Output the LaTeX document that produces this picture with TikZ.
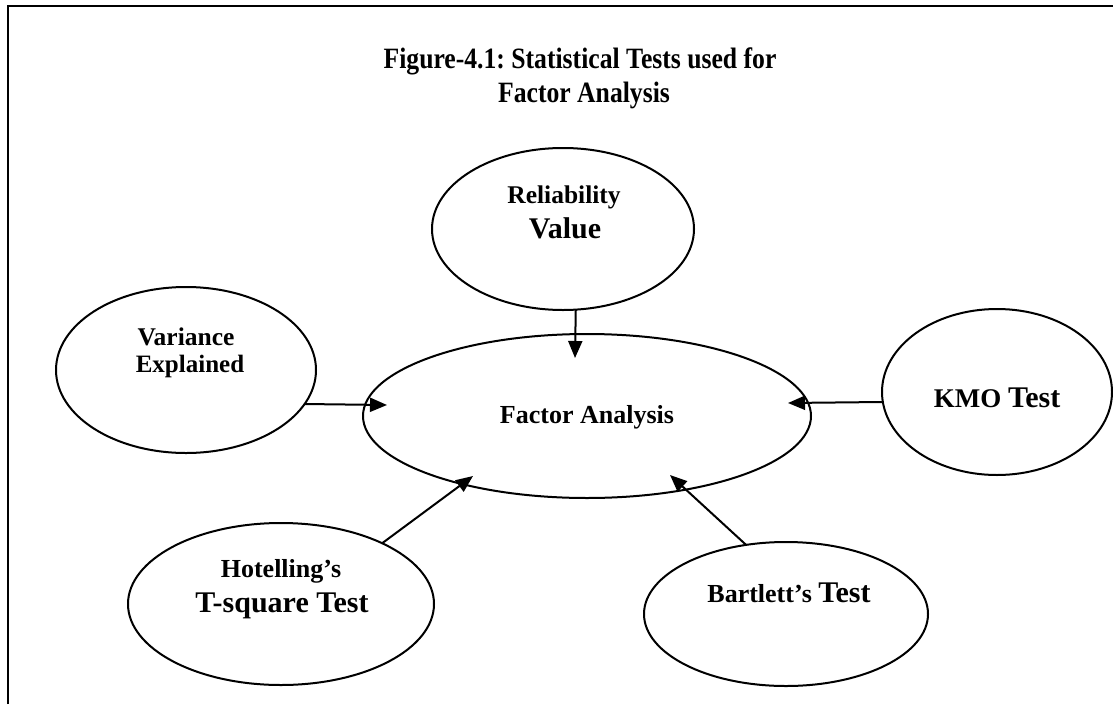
\documentclass[tikz,border=0pt]{standalone}
\usepackage{fontspec}
\setmainfont{Liberation Serif}
\newfontfamily\titlefont[FakeStretch=0.87]{Liberation Serif}
\usetikzlibrary{shapes.geometric,arrows.meta}
\newcommand\setfs[1]{\fontsize{#1}{#1}\selectfont}
\frenchspacing
\begin{document}
\frenchspacing
\begin{tikzpicture}[x=1pt,y=-1pt,
  oval/.style={draw, ellipse, line width=2pt, inner sep=0pt, outer sep=0pt},
  lbl/.style={anchor=base, inner sep=0pt, outer sep=0pt, font=\bfseries},
  ttl/.style={anchor=base, inner sep=0pt, outer sep=0pt, font=\titlefont\bfseries},
  arr/.style={line width=2pt, -{Triangle[length=17pt,width=14pt]}},
  frame/.style={line width=2pt}]
\useasboundingbox (0,0) rectangle (1113,704);
% frame
\draw[frame] (8,704) -- (8,6) -- (1113,6);
% title
\node[ttl] (t1) at (580,68) {\setfs{29.5}Figure-4.1: Statistical Tests used for};
\node[ttl] (t2) at (584,102) {\setfs{29.5}Factor Analysis};
% ellipses
\node[oval, minimum width=262pt, minimum height=162pt] (rel) at (563,229) {};
\node[oval, minimum width=260pt, minimum height=166pt] (var) at (186,370) {};
\node[oval, minimum width=448pt, minimum height=164pt] (fa)  at (587,416) {};
\node[oval, minimum width=230pt, minimum height=166pt] (kmo) at (997,392) {};
\node[oval, minimum width=306pt, minimum height=162pt] (hot) at (281,604) {};
\node[oval, minimum width=284pt, minimum height=144pt] (bar) at (786,614) {};
% labels
\node[lbl] (relA) at (564,203) {\setfs{25.5}Reliability};
\node[lbl] (relB) at (565,238) {\setfs{30}Value};
\node[lbl] (varA) at (186,345) {\setfs{25.5}Variance};
\node[lbl] (varB) at (190,372) {\setfs{25}Explained};
\node[lbl] (faA)  at (587,423) {\setfs{26}Factor Analysis};
\node[lbl] (kmoA) at (997,407) {\setfs{27}KMO \setfs{30}Test};
\node[lbl] (hotA) at (281,577) {\setfs{26}Hotelling’s};
\node[lbl] (hotB) at (282,612) {\setfs{30}T-square Test};
\node[lbl] (barA) at (789,602) {\setfs{26}Bartlett’s \setfs{30}Test};
% arrow tips
\coordinate (tRel) at (575,358);
\coordinate (tVar) at (387,405);
\coordinate (tKmo) at (788,403);
\coordinate (tHot) at (473,476);
\coordinate (tBar) at (670,475);
% connectors
\draw[arr] (rel.-81.5) -- (tRel);
\draw[arr] (var.-16.5) -- (tVar);
\draw[arr] (kmo.185.5) -- (tKmo);
\draw[arr] (hot.31.6) -- (tHot);
\draw[arr] (bar.120.7) -- (tBar);
\end{tikzpicture}
\end{document}
